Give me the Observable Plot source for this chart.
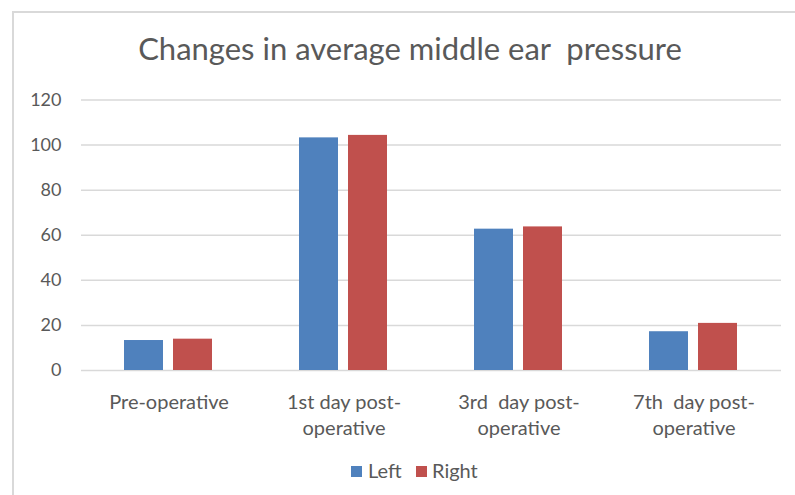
<!DOCTYPE html>
<html>
<head>
<meta charset="utf-8">
<script src="https://cdn.jsdelivr.net/npm/d3@7"></script>
<script src="https://cdn.jsdelivr.net/npm/@observablehq/plot@0.6"></script>
<style>
  html, body { margin: 0; padding: 0; background: #fff; }
  #wrap { position: relative; width: 795px; height: 495px; overflow: hidden; background: #fff; font-family: Lato, "Liberation Sans", sans-serif; }
  #frame { position: absolute; left: 12px; top: 11px; width: 900px; height: 600px; border-left: 2px solid #D9D9D9; border-top: 2px solid #D9D9D9; }
  #title { position: absolute; left: 0; top: 33px; width: 820px; text-align: center; font-size: 31px; line-height: 31px; color: #595959; white-space: pre; }
  #chart { position: absolute; left: 0; top: 0; }
  #chart svg text, #chart svg tspan { white-space: pre; }
  .leg { position: absolute; top: 460px; font-size: 20px; line-height: 20px; color: #595959; }
  .sw { position: absolute; width: 11px; height: 11px; top: 466px; }
</style>
</head>
<body>
<div id="wrap">
  <div id="frame"></div>
  <div id="chart"></div>
  <div id="title"></div>
  <div id="legend"></div>
</div>
<script>
const title = "Changes in average middle ear  pressure";
const categories = ["Pre-operative", "1st day post-operative", "3rd  day post-operative", "7th  day post-operative"];
const tickLabels = ["Pre-operative", "1st day post-\noperative", "3rd  day post-\noperative", "7th  day post-\noperative"];
const series = ["Left", "Right"];
const colors = ["#4F81BD", "#C0504D"];
const leftValues = [13.3, 103.2, 62.7, 17.2];
const rightValues = [13.9, 104.3, 63.7, 20.9];
const yTicks = [0, 20, 40, 60, 80, 100, 120];

const data = [];
categories.forEach((c, i) => {
  data.push({category: c, side: series[0], value: leftValues[i]});
  data.push({category: c, side: series[1], value: rightValues[i]});
});

document.getElementById("title").textContent = title;

const chart = Plot.plot({
  width: 795,
  height: 445,
  marginLeft: 80,
  marginRight: 13,
  marginTop: 99.5,
  marginBottom: 75,
  style: {fontFamily: "Lato, 'Liberation Sans', sans-serif", color: "#595959", background: "transparent"},
  fx: {domain: categories, paddingInner: 0, paddingOuter: 0, label: null},
  x: {domain: series, paddingInner: 0.2, paddingOuter: 0.86, axis: null},
  y: {domain: [0, 120], label: null},
  color: {domain: series, range: colors},
  marks: [
    Plot.gridY(yTicks, {stroke: "#D9D9D9", strokeOpacity: 1, strokeWidth: 1.5}),
    Plot.barY(data, {fx: "category", x: "side", y: "value", fill: "side"}),
    Plot.axisY(yTicks, {tickSize: 0, tickPadding: 20, fontSize: 18, fill: "#595959", label: null}),
    Plot.axisFx({anchor: "bottom", tickSize: 0, tickPadding: 20, fontSize: 20, lineHeight: 1.3, fill: "#595959", label: null,
      tickFormat: (d) => tickLabels[categories.indexOf(d)]})
  ]
});
document.getElementById("chart").appendChild(chart);

const legend = document.getElementById("legend");
const swX = [351, 416];
const txX = [368, 432];
series.forEach((s, i) => {
  const sw = document.createElement("div");
  sw.className = "sw";
  sw.style.left = swX[i] + "px";
  sw.style.background = colors[i];
  legend.appendChild(sw);
  const t = document.createElement("div");
  t.className = "leg";
  t.style.left = txX[i] + "px";
  t.textContent = s;
  legend.appendChild(t);
});
</script>
</body>
</html>
